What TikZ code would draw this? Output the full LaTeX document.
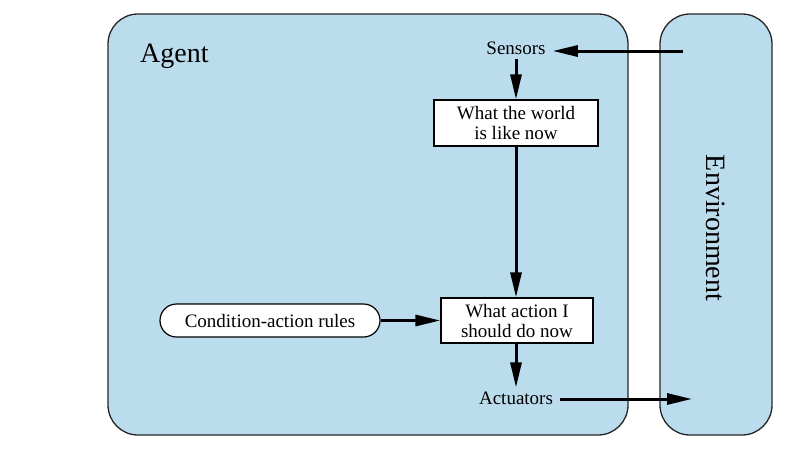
\documentclass[tikz,border=0pt]{standalone}
\usepackage{fontspec}
\setmainfont{Liberation Serif}
\usetikzlibrary{arrows.meta,shapes.misc}
\definecolor{panelblue}{RGB}{187,220,236}
\tikzset{
  panel/.style={draw=black!85, line width=1.3pt, fill=panelblue, rounded corners=30pt},
  txt/.style={font=\fontsize{19}{20}\selectfont, inner sep=3pt, align=center},
  lbl/.style={font=\fontsize{19}{20}\selectfont, inner xsep=7pt, inner ysep=4pt, align=center},
  whitebox/.style={txt, draw=black, line width=1.2pt, fill=white},
  pill/.style={txt, draw=black, line width=1.2pt, fill=white, rounded rectangle, minimum width=226pt, minimum height=33pt},
  flow/.style={line width=3pt, -{Triangle[length=25pt,width=11pt]}},
}
\begin{document}
\begin{tikzpicture}[x=1pt,y=-1pt]
\useasboundingbox (0,0) rectangle (800,450);
\draw[panel] (108,14) rectangle (628,435);
\draw[panel] (660,14) rectangle (772,435);
\node[font=\fontsize{28}{30}\selectfont, inner sep=0pt, anchor=base west] (agent) at (140,62) {Agent};
\node[font=\fontsize{28}{30}\selectfont, inner sep=0pt, rotate=-90] (env) at (716,228) {Environment};
\node[lbl] (sensors) at (516,48) {Sensors};
\node[whitebox, minimum width=164pt, minimum height=46pt] (world) at (516,123) {What the world\\is like now};
\node[whitebox, minimum width=152pt, minimum height=45pt] (action) at (517,320.5) {What action I\\should do now};
\node[pill] (rules) at (270,320.5) {Condition-action rules};
\node[lbl] (act) at (516,398) {Actuators};
\coordinate (envin) at (683,51);
\coordinate (envout) at (692,399);
\draw[flow] (envin) -- (envin -| sensors.east);
\draw[flow] (sensors.south) -- (world.north);
\draw[flow] (world.south) -- (world.south |- action.north);
\draw[flow] (rules.east) -- (action.west);
\draw[flow] (action.south -| act) -- (act.north);
\draw[flow] (envout -| act.east) -- (envout);
\end{tikzpicture}
\end{document}
